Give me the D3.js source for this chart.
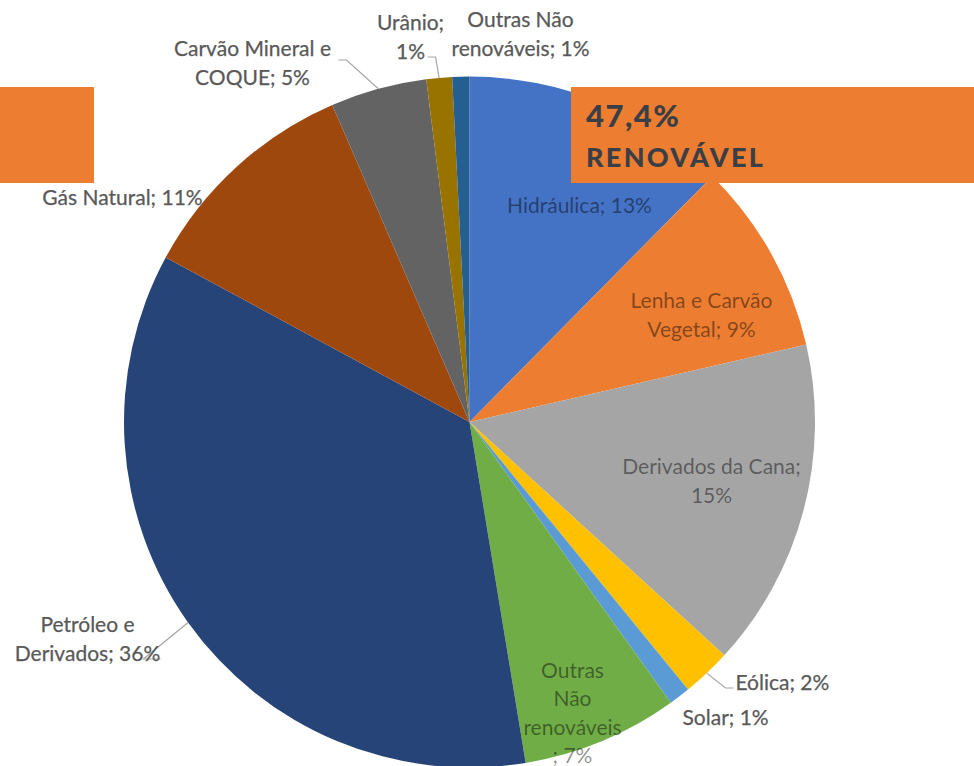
<!DOCTYPE html>
<html><head><meta charset="utf-8">
<script src="https://cdn.jsdelivr.net/npm/d3@7"></script>
<style>html,body{margin:0;padding:0;background:#fff;}svg{display:block;}</style>
</head><body>
<svg id="c" width="974" height="766"></svg>
<script>
// ---- data ----
const categories = ["Hidráulica","Lenha e Carvão Vegetal","Derivados da Cana","Eólica","Solar","Outras renováveis",
  "Petróleo e Derivados","Gás Natural","Carvão Mineral e COQUE","Urânio","Outras Não renováveis"];
const values = [12.4, 9.0, 15.4, 2.3, 1.0, 7.3, 35.5, 10.6, 4.5, 1.2, 0.8];
const labelTexts = ["Hidráulica; 13%","Lenha e Carvão\nVegetal; 9%","Derivados da Cana;\n15%","Eólica; 2%","Solar; 1%",
  "Outras\nNão\nrenováveis\n; 7%","Petróleo e\nDerivados; 36%","Gás Natural; 11%","Carvão Mineral e\nCOQUE; 5%",
  "Urânio;\n1%","Outras Não\nrenováveis; 1%"];
const renewableTotal = "47,4%";
const renewableText = "RENOVÁVEL";

// ---- styles / layout ----
const colors = ["#4472C4","#ED7D31","#A5A5A5","#FFC000","#5B9BD5","#70AD47","#264478","#9E480E","#636363","#997300","#255E91"];
// label block centre offsets from pie centre, anchor, inside flag
const labelLayout = [
  {dx:110, dy:-216, a:"middle", inside:true},
  {dx:232, dy:-107, a:"middle", inside:true},
  {dx:242, dy:59, a:"middle", inside:true},
  {dx:266, dy:261, a:"start", leader:{ex:264, ey:266, elbow:-8}},
  {dx:213, dy:296, a:"start"},
  {dx:103, dy:291, a:"middle", inside:true},
  {dx:-382, dy:217, a:"middle", leader:{ex:-309, ey:237, elbow:-17}},
  {dx:-347, dy:-224, a:"middle"},
  {dx:-217, dy:-359, a:"middle", leader:{ex:-131, ey:-362, elbow:8}},
  {dx:-59, dy:-385, a:"middle", leader:{ex:-42, ey:-365, elbow:8}},
  {dx:51, dy:-388, a:"middle"}
];

const W = 974, H = 766;
const cx = 469.5, cy = 422, R = 345.5;
const svg = d3.select("#c");
const g = svg.append("g").attr("transform", `translate(${cx},${cy})`);

const pie = d3.pie().sort(null).value(d => d).startAngle(0).endAngle(2*Math.PI);
const arcs = pie(values);
const arc = d3.arc().innerRadius(0).outerRadius(R);

g.selectAll("path.slice").data(arcs).join("path")
  .attr("class","slice")
  .attr("d", arc)
  .attr("fill", (d,i) => colors[i]);

const fontFamily = "Lato, 'Open Sans', sans-serif";
const fs = 21, lh = 28.5;

// leader lines
arcs.forEach((d,i) => {
  const L = labelLayout[i].leader;
  if (!L) return;
  const mid = (d.startAngle + d.endAngle)/2;
  const sx = Math.sin(mid)*R, sy = -Math.cos(mid)*R;
  const pts = [[sx,sy],[L.ex+L.elbow, L.ey],[L.ex, L.ey]];
  g.append("path")
    .attr("d", d3.line()(pts))
    .attr("fill","none").attr("stroke","#A6A6A6").attr("stroke-width",1.2);
});

// labels
labelTexts.forEach((t,i) => {
  const lay = labelLayout[i];
  const lines = t.split("\n");
  const y0 = lay.dy - (lines.length-1)*lh/2;
  const txt = g.append("text")
    .attr("text-anchor", lay.a)
    .attr("font-family", fontFamily)
    .attr("font-size", fs)
    .attr("fill", lay.inside ? "#000" : "#595959")
    .attr("fill-opacity", lay.inside ? 0.45 : 1)
    .attr("stroke", lay.inside ? "none" : "#595959")
    .attr("stroke-width", lay.inside ? 0 : 0.25);
  lines.forEach((ln,k) => {
    txt.append("tspan").attr("x", lay.dx).attr("y", y0 + k*lh).attr("dy","0.35em").text(ln);
  });
});

// orange overlay boxes
svg.append("rect").attr("x",0).attr("y",87).attr("width",94).attr("height",96).attr("fill","#ED7D31");
svg.append("rect").attr("x",571).attr("y",87).attr("width",W-571).attr("height",96).attr("fill","#ED7D31");
svg.append("text").attr("x",586).attr("y",127)
  .attr("font-family", fontFamily).attr("font-weight",900).attr("font-size",31)
  .attr("letter-spacing",1.5).attr("fill","#3a3f46").text(renewableTotal);
svg.append("text").attr("x",586).attr("y",167)
  .attr("font-family", fontFamily).attr("font-weight",900).attr("font-size",27)
  .attr("letter-spacing",2.3).attr("fill","#3a3f46").text(renewableText);
</script>
</body></html>
